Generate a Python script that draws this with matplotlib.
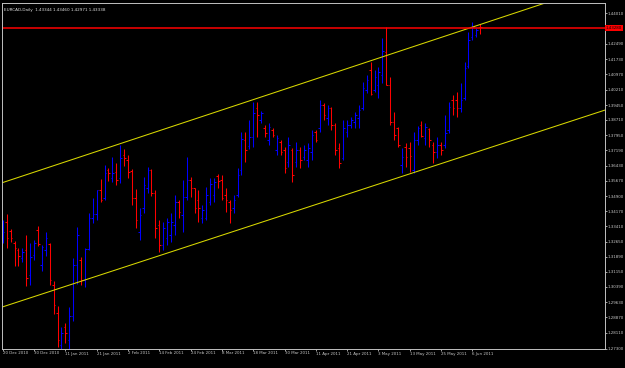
import matplotlib
matplotlib.use("Agg")
import matplotlib.pyplot as plt
import matplotlib.transforms as mtransforms

# EURCAD daily bars, 20 Dec 2010 .. 9 Jun 2011
symbol = "EURCAD,Daily"
last_ohlc = "1.43344 1.43460 1.42971 1.43338"

opens = [
    1.3283, 1.3363, 1.3318, 1.3258, 1.3223, 1.3183, 1.3223, 1.3099, 1.3198, 1.3323,
    1.3148, 1.3223, 1.3253, 1.3049, 1.2909, 1.2750, 1.2840, 1.2775, 1.2894, 1.3148,
    1.3173, 1.3074, 1.3228, 1.3383, 1.3402, 1.3522, 1.3482, 1.3622, 1.3582, 1.3612,
    1.3582, 1.3696, 1.3671, 1.3617, 1.3482, 1.3313, 1.3432, 1.3532, 1.3622, 1.3507,
    1.3348, 1.3248, 1.3283, 1.3298, 1.3348, 1.3462, 1.3397, 1.3487, 1.3572, 1.3532,
    1.3472, 1.3383, 1.3383, 1.3462, 1.3497, 1.3592, 1.3572, 1.3497, 1.3462, 1.3432,
    1.3497, 1.3622, 1.3771, 1.3741, 1.3786, 1.3930, 1.3871, 1.3831, 1.3771, 1.3821,
    1.3721, 1.3761, 1.3721, 1.3661, 1.3721, 1.3661, 1.3721, 1.3686, 1.3671, 1.3711,
    1.3811, 1.3831, 1.3945, 1.3880, 1.3930, 1.3846, 1.3731, 1.3681, 1.3811, 1.3846,
    1.3861, 1.3880, 1.3930, 1.4020, 1.4120, 1.4020, 1.4045, 1.4095, 1.4209, 1.4045,
    1.3861, 1.3831, 1.3646, 1.3736, 1.3731, 1.3622, 1.3771, 1.3846, 1.3781, 1.3826,
    1.3746, 1.3711, 1.3746, 1.3746, 1.3821, 1.3970, 1.3970, 1.3930, 1.3980, 1.4139,
    1.4284, 1.4294, 1.43344,
]
highs = [
    1.3373, 1.3402, 1.3328, 1.3268, 1.3233, 1.3233, 1.3298, 1.3258, 1.3273, 1.3343,
    1.3248, 1.3313, 1.3258, 1.3069, 1.2944, 1.2840, 1.2860, 1.2939, 1.3183, 1.3338,
    1.3188, 1.3233, 1.3407, 1.3482, 1.3522, 1.3577, 1.3646, 1.3631, 1.3686, 1.3656,
    1.3746, 1.3726, 1.3696, 1.3626, 1.3527, 1.3432, 1.3587, 1.3636, 1.3626, 1.3522,
    1.3373, 1.3363, 1.3383, 1.3407, 1.3497, 1.3472, 1.3572, 1.3686, 1.3587, 1.3532,
    1.3522, 1.3447, 1.3537, 1.3582, 1.3582, 1.3602, 1.3597, 1.3532, 1.3472, 1.3497,
    1.3631, 1.3811, 1.3811, 1.3871, 1.3960, 1.3960, 1.3915, 1.3846, 1.3856, 1.3831,
    1.3796, 1.3771, 1.3736, 1.3786, 1.3731, 1.3761, 1.3736, 1.3746, 1.3756, 1.3821,
    1.3821, 1.3970, 1.3955, 1.3945, 1.3935, 1.3856, 1.3756, 1.3871, 1.3871, 1.3885,
    1.3910, 1.3945, 1.4060, 1.4095, 1.4159, 1.4120, 1.4134, 1.4279, 1.4334, 1.4085,
    1.3910, 1.3836, 1.3731, 1.3756, 1.3761, 1.3811, 1.3841, 1.3866, 1.3856, 1.3831,
    1.3761, 1.3786, 1.3761, 1.3895, 1.3960, 1.3995, 1.4010, 1.4055, 1.4159, 1.4309,
    1.4359, 1.4329, 1.43460,
]
lows = [
    1.3258, 1.3233, 1.3263, 1.3143, 1.3143, 1.3163, 1.3044, 1.3049, 1.3173, 1.3243,
    1.3119, 1.3193, 1.3049, 1.2904, 1.2740, 1.2730, 1.2760, 1.2730, 1.2870, 1.3054,
    1.3049, 1.3039, 1.3223, 1.3358, 1.3373, 1.3462, 1.3472, 1.3567, 1.3562, 1.3547,
    1.3557, 1.3641, 1.3582, 1.3447, 1.3333, 1.3273, 1.3407, 1.3507, 1.3492, 1.3283,
    1.3213, 1.3223, 1.3248, 1.3263, 1.3298, 1.3383, 1.3313, 1.3472, 1.3487, 1.3407,
    1.3363, 1.3358, 1.3373, 1.3447, 1.3462, 1.3532, 1.3472, 1.3412, 1.3358, 1.3407,
    1.3487, 1.3597, 1.3661, 1.3726, 1.3736, 1.3786, 1.3856, 1.3786, 1.3746, 1.3786,
    1.3696, 1.3696, 1.3607, 1.3636, 1.3562, 1.3636, 1.3631, 1.3671, 1.3636, 1.3671,
    1.3761, 1.3811, 1.3871, 1.3846, 1.3821, 1.3696, 1.3631, 1.3671, 1.3786, 1.3831,
    1.3831, 1.3831, 1.3920, 1.4005, 1.3995, 1.4010, 1.3980, 1.4055, 1.4045, 1.3846,
    1.3771, 1.3736, 1.3607, 1.3636, 1.3612, 1.3607, 1.3746, 1.3786, 1.3746, 1.3736,
    1.3656, 1.3681, 1.3696, 1.3731, 1.3806, 1.3895, 1.3885, 1.3910, 1.3970, 1.4129,
    1.4269, 1.4284, 1.42971,
]
closes = [
    1.3313, 1.3283, 1.3283, 1.3233, 1.3193, 1.3213, 1.3084, 1.3188, 1.3258, 1.3253,
    1.3238, 1.3283, 1.3074, 1.2949, 1.2775, 1.2810, 1.2810, 1.2894, 1.3148, 1.3298,
    1.3074, 1.3228, 1.3383, 1.3402, 1.3522, 1.3472, 1.3607, 1.3607, 1.3607, 1.3572,
    1.3681, 1.3681, 1.3612, 1.3482, 1.3373, 1.3397, 1.3547, 1.3622, 1.3507, 1.3333,
    1.3248, 1.3333, 1.3363, 1.3363, 1.3462, 1.3412, 1.3487, 1.3572, 1.3532, 1.3432,
    1.3432, 1.3422, 1.3497, 1.3552, 1.3562, 1.3567, 1.3482, 1.3472, 1.3422, 1.3472,
    1.3597, 1.3776, 1.3721, 1.3786, 1.3905, 1.3895, 1.3905, 1.3806, 1.3836, 1.3796,
    1.3781, 1.3711, 1.3631, 1.3746, 1.3597, 1.3721, 1.3671, 1.3721, 1.3731, 1.3796,
    1.3771, 1.3945, 1.3895, 1.3930, 1.3846, 1.3721, 1.3656, 1.3831, 1.3846, 1.3871,
    1.3895, 1.3920, 1.4030, 1.4070, 1.4000, 1.4085, 1.4110, 1.4214, 1.4045, 1.3861,
    1.3796, 1.3746, 1.3686, 1.3686, 1.3691, 1.3771, 1.3831, 1.3791, 1.3836, 1.3771,
    1.3711, 1.3746, 1.3721, 1.3806, 1.3935, 1.3930, 1.3930, 1.3970, 1.4129, 1.4269,
    1.4334, 1.4319, 1.43338,
]

date_labels = ["20 Dec 2010", "30 Dec 2010", "11 Jan 2011", "21 Jan 2011",
               "2 Feb 2011", "14 Feb 2011", "24 Feb 2011", "8 Mar 2011",
               "18 Mar 2011", "30 Mar 2011", "11 Apr 2011", "21 Apr 2011",
               "3 May 2011", "13 May 2011", "25 May 2011", "6 Jun 2011"]
date_label_bars = [0, 8, 16, 24, 32, 40, 48, 56, 64, 72, 80, 88, 96, 104, 112, 120]

price_ticks = [1.44010, 1.42490, 1.41730, 1.40970, 1.40210, 1.39450, 1.38710,
               1.37950, 1.37190, 1.36430, 1.35670, 1.34900, 1.34170, 1.33410,
               1.32650, 1.31890, 1.31150, 1.30390, 1.29630, 1.28870, 1.28110,
               1.27300]

# drawn objects: channel (two parallel trend lines) and a horizontal level
channel_upper = [(0, 1.3559), (120, 1.4333)]
channel_lower = [(0, 1.2940), (120, 1.3704)]
level_price = 1.43280

fig = plt.figure(figsize=(6.25, 3.68), dpi=100, facecolor="black")
ax = fig.add_axes([2 / 625, 19 / 368, 603 / 625, 346 / 368], facecolor="black")

bars = range(len(closes))
colors = ["#0000ff" if c > o else "#ff0000" for o, c in zip(opens, closes)]
ax.vlines(bars, lows, highs, colors=colors, lw=0.75)
ax.hlines(opens, [i - 0.4 for i in bars], bars, colors=colors, lw=0.75)
ax.hlines(closes, bars, [i + 0.4 for i in bars], colors=colors, lw=0.75)

ax.axline(channel_upper[0], channel_upper[1], color="#d8d800", lw=0.75)
ax.axline(channel_lower[0], channel_lower[1], color="#d8d800", lw=0.75)
ax.axhline(level_price, color="#ff0000", lw=1.1)

ax.set_xlim(-0.2, 153.9)
ax.set_ylim(1.2730, 1.4453)

for side in ax.spines.values():
    side.set_color("#c0c0c0")
    side.set_linewidth(0.7)

ax.set_xticks(date_label_bars)
ax.set_xticklabels(date_labels, ha="left")
ax.yaxis.tick_right()
ax.set_yticks(price_ticks)
ax.set_yticklabels(["%.5f" % p for p in price_ticks])
ax.tick_params(axis="both", colors="#c0c0c0", labelcolor="#c8c8c8",
               labelsize=2.9, length=1.3, width=0.6, pad=0.5)

# price label of the horizontal level on the scale
trans = mtransforms.blended_transform_factory(ax.transAxes, ax.transData)
ax.text(1.0015, level_price, "%.5f" % level_price, transform=trans, fontsize=2.9,
        va="center", ha="left", color="black", clip_on=False,
        bbox=dict(boxstyle="square,pad=0.25", fc="#ff0000", ec="none"))

ax.text(0.004, 0.985, symbol + "  " + last_ohlc, transform=ax.transAxes,
        fontsize=3.0, color="#e0e0e0", va="top", ha="left")

fig.savefig("out.png", dpi=100, facecolor="black")
